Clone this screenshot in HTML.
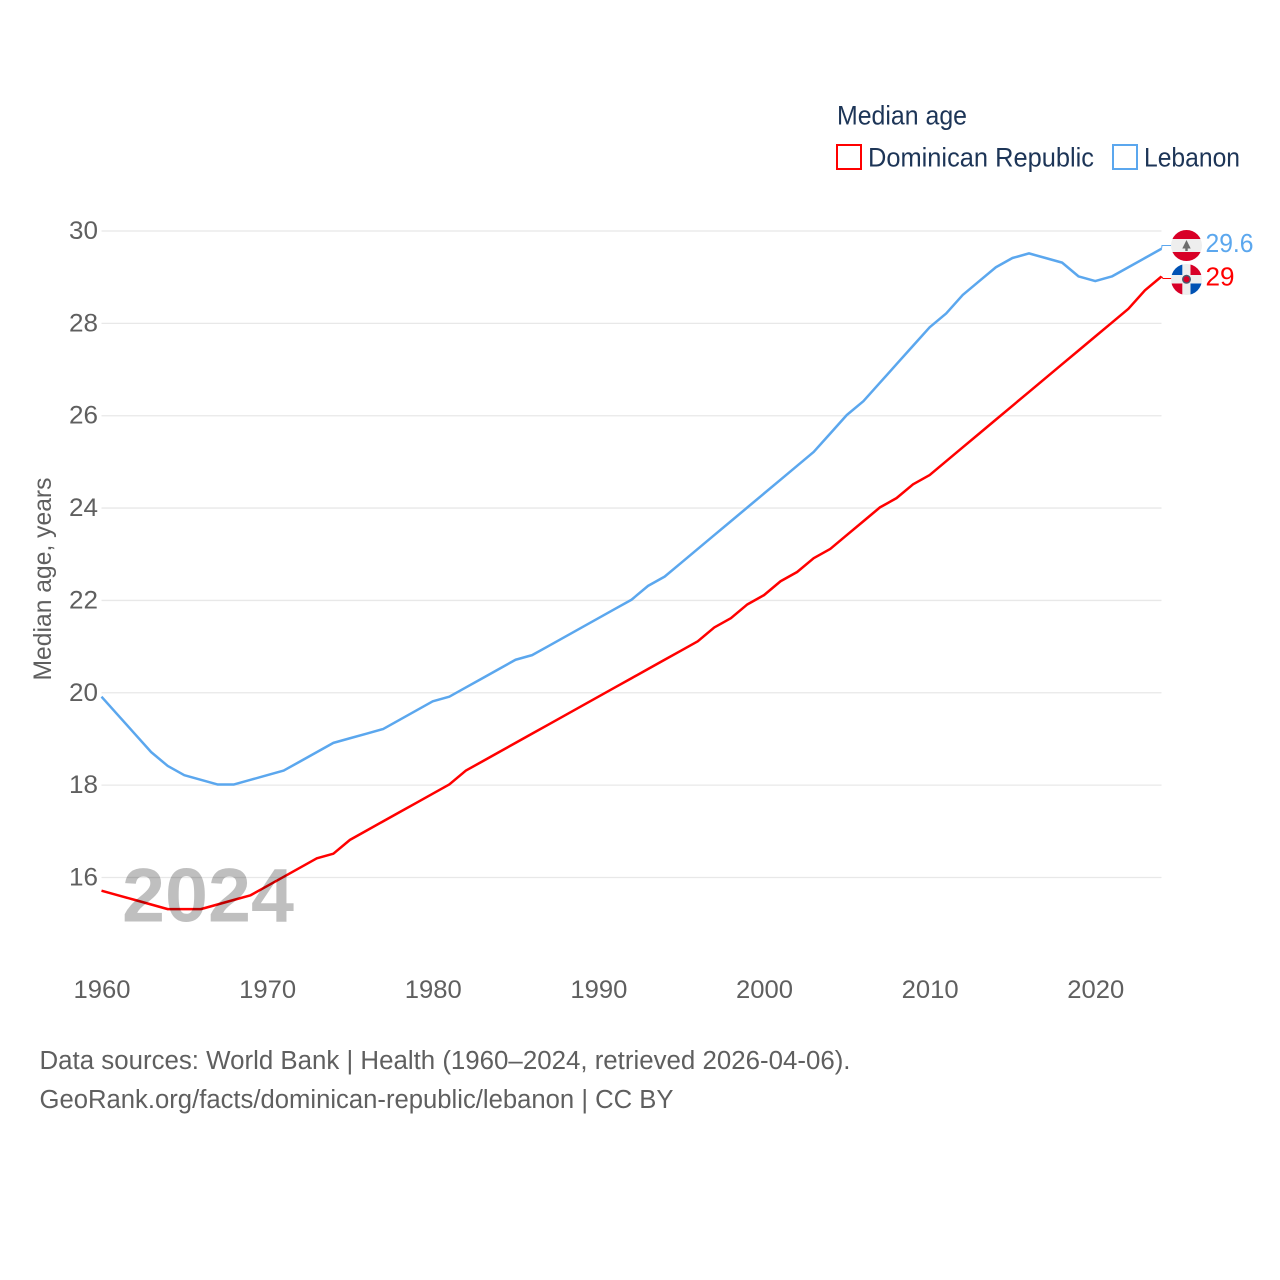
<!DOCTYPE html>
<html lang="en">
<head>
<meta charset="utf-8">
<title>Median age: Dominican Republic and Lebanon</title>
<style>
html,body{margin:0;padding:0;background:#fff;width:1280px;height:1280px;overflow:hidden}
svg{display:block;font-family:"Liberation Sans",sans-serif}
</style>
</head>
<body>
<svg id="chart" xmlns="http://www.w3.org/2000/svg" width="1280" height="1280" viewBox="0 0 1280 1280">
  <defs>
    <clipPath id="clip-lb"><circle cx="1186.5" cy="245.5" r="15.5"/></clipPath>
    <clipPath id="clip-do"><circle cx="1186.5" cy="279.5" r="15.5"/></clipPath>
  </defs>
  <g id="grid"></g>
  <g id="y-ticks"></g>
  <g id="x-ticks"></g>
  <text transform="translate(51,579) rotate(-90)" text-anchor="middle" font-size="25" fill="#5f5f5f" textLength="203" lengthAdjust="spacingAndGlyphs">Median age, years</text>

  <g>
    <text x="837" y="124.5" font-size="26.5" fill="#1d3557" textLength="130" lengthAdjust="spacingAndGlyphs">Median age</text>
    <rect x="837" y="145" width="24" height="24" fill="#fff" stroke="#ff0000" stroke-width="2"/>
    <text x="868" y="166.5" font-size="26.5" fill="#1d3557" textLength="226" lengthAdjust="spacingAndGlyphs">Dominican Republic</text>
    <rect x="1113" y="145" width="24" height="24" fill="#fff" stroke="#5ba7ee" stroke-width="2"/>
    <text x="1144" y="166.5" font-size="26.5" fill="#1d3557" textLength="96" lengthAdjust="spacingAndGlyphs">Lebanon</text>
  </g>

  <g id="series"></g>

  <text x="122" y="921.5" font-size="76" font-weight="700" fill="#000" fill-opacity="0.25" textLength="172" lengthAdjust="spacingAndGlyphs">2024</text>

  <g clip-path="url(#clip-lb)">
    <rect x="1170" y="230" width="33" height="32" fill="#eeeeee"/>
    <rect x="1170" y="230" width="33" height="9" fill="#d80027"/>
    <rect x="1170" y="252" width="33" height="10" fill="#d80027"/>
    <path d="M1186.5 240l4.2 8.5h-3v2.5h-2.4v-2.5h-3z" fill="#6d6d6d"/>
  </g>
  <g clip-path="url(#clip-do)">
    <rect x="1170" y="264" width="33" height="32" fill="#eeeeee"/>
    <rect x="1171" y="264" width="11.3" height="11" fill="#0052b4"/>
    <rect x="1190.5" y="264" width="12" height="11" fill="#d80027"/>
    <rect x="1171" y="283.5" width="11.3" height="12" fill="#d80027"/>
    <rect x="1190.5" y="283.5" width="12" height="12" fill="#0052b4"/>
    <circle cx="1186.5" cy="279.3" r="3.8" fill="#d80027" stroke="#4a5a70" stroke-width="1.4"/>
  </g>

  <g id="end-labels"></g>

  <g>
    <text x="39.5" y="1069" font-size="25.5" fill="#5f5f5f" textLength="811" lengthAdjust="spacingAndGlyphs">Data sources: World Bank | Health (1960–2024, retrieved 2026-04-06).</text>
    <text x="39.5" y="1108" font-size="25.5" fill="#5f5f5f" textLength="634" lengthAdjust="spacingAndGlyphs">GeoRank.org/facts/dominican-republic/lebanon | CC BY</text>
  </g>
</svg>
<script>
const years = [1960,1961,1962,1963,1964,1965,1966,1967,1968,1969,1970,1971,1972,1973,1974,1975,1976,1977,1978,1979,1980,1981,1982,1983,1984,1985,1986,1987,1988,1989,1990,1991,1992,1993,1994,1995,1996,1997,1998,1999,2000,2001,2002,2003,2004,2005,2006,2007,2008,2009,2010,2011,2012,2013,2014,2015,2016,2017,2018,2019,2020,2021,2022,2023,2024];
const lebanon = [19.9,19.5,19.1,18.7,18.4,18.2,18.1,18.0,18.0,18.1,18.2,18.3,18.5,18.7,18.9,19.0,19.1,19.2,19.4,19.6,19.8,19.9,20.1,20.3,20.5,20.7,20.8,21.0,21.2,21.4,21.6,21.8,22.0,22.3,22.5,22.8,23.1,23.4,23.7,24.0,24.3,24.6,24.9,25.2,25.6,26.0,26.3,26.7,27.1,27.5,27.9,28.2,28.6,28.9,29.2,29.4,29.5,29.4,29.3,29.0,28.9,29.0,29.2,29.4,29.6];
const dominicanRepublic = [15.7,15.6,15.5,15.4,15.3,15.3,15.3,15.4,15.5,15.6,15.8,16.0,16.2,16.4,16.5,16.8,17.0,17.2,17.4,17.6,17.8,18.0,18.3,18.5,18.7,18.9,19.1,19.3,19.5,19.7,19.9,20.1,20.3,20.5,20.7,20.9,21.1,21.4,21.6,21.9,22.1,22.4,22.6,22.9,23.1,23.4,23.7,24.0,24.2,24.5,24.7,25.0,25.3,25.6,25.9,26.2,26.5,26.8,27.1,27.4,27.7,28.0,28.3,28.7,29.0];
const yTickValues = [16,18,20,22,24,26,28,30];
const xTickValues = [1960,1970,1980,1990,2000,2010,2020];

const NS = 'http://www.w3.org/2000/svg';
const plotLeft = 101.5, plotRight = 1161.5, plotTop = 231, plotBottom = 877.5;
const lineShift = -0.7;
const xScale = function (year) { return plotLeft + (year - 1960) * (plotRight - plotLeft) / 64; };
const yScale = function (value) { return plotBottom - (value - 16) * (plotBottom - plotTop) / 14; };

function make(tag, attrs, parent) {
  const el = document.createElementNS(NS, tag);
  Object.keys(attrs).forEach(function (k) { el.setAttribute(k, attrs[k]); });
  parent.appendChild(el);
  return el;
}

const grid = document.getElementById('grid');
const yTicks = document.getElementById('y-ticks');
const xTicks = document.getElementById('x-ticks');
const seriesGroup = document.getElementById('series');
const endLabels = document.getElementById('end-labels');

yTickValues.forEach(function (v) {
  const line = make('line', {x1: plotLeft, x2: plotRight, y1: yScale(v), y2: yScale(v), stroke: '#e8e8e8', 'stroke-width': 1.3}, grid);
  
  
  const label = make('text', {x: 98, y: yScale(v) + 8, 'text-anchor': 'end', 'font-size': 25, fill: '#5f5f5f', textLength: 29, lengthAdjust: 'spacingAndGlyphs'}, yTicks);
  
  
  label.textContent = String(v);
});

xTickValues.forEach(function (v) {
  const label = make('text', {x: xScale(v) + 0.5, y: 998, 'text-anchor': 'middle', 'font-size': 25, fill: '#5f5f5f', textLength: 57, lengthAdjust: 'spacingAndGlyphs'}, xTicks);
  
  
  label.textContent = String(v);
});

function pathFor(values) {
  return values.map(function (v, i) {
    return (i ? 'L' : 'M') + xScale(years[i]).toFixed(2) + ' ' + (yScale(v) + lineShift).toFixed(2);
  }).join('');
}

const lebanonLine = make('path', {d: pathFor(lebanon), fill: 'none', stroke: '#5ba7ee', 'stroke-width': 2.5, 'stroke-linejoin': 'round'}, seriesGroup);


const domLine = make('path', {d: pathFor(dominicanRepublic), fill: 'none', stroke: '#ff0000', 'stroke-width': 2.5, 'stroke-linejoin': 'round'}, seriesGroup);



const lastIndex = years.length - 1;
const endX = xScale(years[lastIndex]);
const lebEndY = yScale(lebanon[lastIndex]) + lineShift;
const domEndY = yScale(dominicanRepublic[lastIndex]) + lineShift;
const lebRowY = 245.5;
const domRowY = 278.5;

const lebConnector = make('path', {d: 'M' + endX + ' ' + lebEndY + 'L' + (endX + 0.5) + ' ' + lebRowY + 'H1172', fill: 'none', stroke: '#5ba7ee', 'stroke-width': 1}, seriesGroup);


const domConnector = make('path', {d: 'M' + endX + ' ' + domEndY + 'L' + (endX + 1.5) + ' ' + domRowY + 'H1172', fill: 'none', stroke: '#ff0000', 'stroke-width': 1}, seriesGroup);



const lebLabel = make('text', {x: 1205.5, y: 252, 'font-size': 26, fill: '#5ba7ee', textLength: 48, lengthAdjust: 'spacingAndGlyphs'}, endLabels);


lebLabel.textContent = String(lebanon[lastIndex]);
const domLabel = make('text', {x: 1205.5, y: 285.5, 'font-size': 26, fill: '#ff0000', textLength: 29, lengthAdjust: 'spacingAndGlyphs'}, endLabels);


domLabel.textContent = String(dominicanRepublic[lastIndex]);
</script>
</body>
</html>
